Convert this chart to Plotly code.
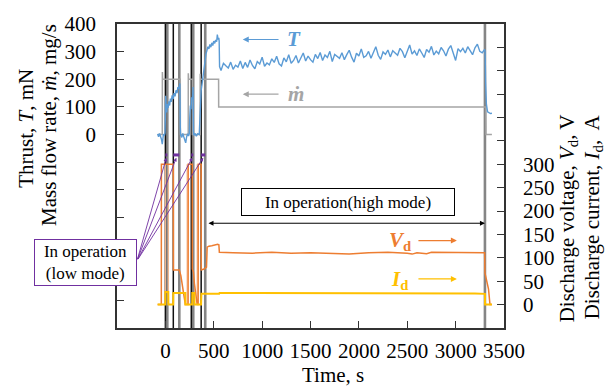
import plotly.graph_objects as go

# ---------------- data ----------------
# Thrust T (mN) - start-up / low-mode part
t_T_early = [-80, -70, -60, -50, -40, -32, -25, -20, -10, -3,
             0, 3, 8, 14, 20, 28, 36, 44, 52, 60,
             70, 80, 90, 100, 110, 120, 130, 140, 150, 154,
             158, 170, 180, 190, 200, 210, 220, 230, 240, 247,
             252, 258, 265, 272, 280, 286, 290, 295, 305, 320,
             335, 350, 355, 362, 370, 380, 390, 400, 410, 420,
             430, 440, 450, 460, 470, 480, 490, 500, 510, 520,
             530, 537, 545, 552, 556, 560]
T_early = [2, -8, 4, -6, -18, -35, -12, 2, -4, 6,
           70, 140, 100, 80, 110, 96, 120, 105, 130, 118,
           142, 128, 150, 138, 160, 150, 172, 166, 185, 30,
           -2, -10, 4, -8, -22, -30, -8, 3, -5, 2,
           60, 105, 92, 135, 128, 172, 12, -3, 4, -6,
           3, 0, 40, 110, 160, 185, 215, 250, 275, 292,
           305, 318, 310, 326, 316, 332, 322, 338, 330, 342,
           336, 362, 344, 350, 338, 246]
# Thrust T (mN) - high mode, sampled every 25 s from 575 s to 3300 s
t_T_high = list(range(575, 3301, 25))
T_high = [232, 258, 249, 241, 262, 236, 251, 244, 266, 239,
          261, 243, 270, 250, 238, 264, 255, 280, 247, 259,
          252, 274, 261, 283, 256, 248, 277, 263, 289, 258,
          268, 286, 259, 279, 295, 266, 284, 271, 262, 290,
          275, 297, 268, 288, 279, 301, 264, 290, 283, 276,
          296, 271, 289, 305, 280, 262, 294, 284, 310, 279,
          285, 301, 276, 296, 318, 287, 272, 299, 290, 306,
          281, 303, 296, 287, 312, 300, 278, 305, 324, 291,
          303, 286, 310, 295, 279, 308, 298, 319, 288, 302,
          292, 315, 303, 284, 309, 322, 297, 268, 311, 300,
          312, 295, 318, 303, 289, 314, 327, 301, 296, 308]
t_T_end = [3305, 3310, 3318, 3330, 3345, 3360, 3375]
T_end = [300, 190, 110, 82, 78, 76, 77]

# Mass flow rate (mg/s)
t_mdot = [-80, -32, -31, -28, 154, 155, 236, 237, 240, 278, 279, 359, 360, 363, 550, 551, 3313, 3314, 3375]
mdot = [0, 0, 226, 200, 200, 0, 0, 222, 200, 200, 0, 0, 220, 200, 200, 100, 100, 0, 0]

# Discharge voltage Vd (V)
t_Vd = [-80, -42, -41, 82, 83, 144, 160, 175, 190, 206, 235, 236, 278, 279, 290, 300, 315, 329,
        339, 340, 370, 371, 400, 425, 432, 450, 480, 510, 540, 553, 558,
        700, 900, 1100, 1300, 1500, 1700, 1900, 2100, 2300, 2500, 2550, 2600, 2700, 2750,
        2800, 3000, 3200, 3300, 3303, 3320, 3340, 3355, 3375]
Vd = [0, 0, 300, 300, 74, 74, 62, 45, 22, 0, 0, 300, 300, 76, 70, 45, 20, 0,
      0, 300, 300, 74, 76, 80, 123, 125, 126, 128, 129, 128, 112,
      111, 110, 112, 110, 111, 110, 108, 111, 112, 110, 108, 111, 109, 112,
      112, 111, 112, 111, 68, 50, 33, 0, 0]
# short discharge-voltage dips during the low-mode attempts (s)
t_Vd_dips = [0, 30, 225, 329]

# Discharge current Id (A)
t_Id = [-80, -1, 0, 30, 31, 81, 82, 206, 207, 277, 278, 300, 301, 369, 372, 556, 560,
        1000, 1500, 1600, 1700, 2200, 3000, 3200, 3303, 3304, 3375]
Id = [0, 0, 27, 27, 0, 0, 25, 25, 0, 0, 25, 25, 0, 0, 23, 23, 25,
      25, 25, 24, 25, 25, 25, 24, 23, 0, 0]

# Low-mode operation windows (s) and end of test (s)
run_start = [0, 82, 268, 370]
run_end = [20, 144, 288, 412]
test_end = 3303
high_start = 430

# Tick labels
x_ticks = [-500, 0, 500, 1000, 1500, 2000, 2500, 3000, 3500]
x_ticktext = ["", "0", "500", "1000", "1500", "2000", "2500", "3000", "3500"]
yl_ticks = [-700, -600, -500, -400, -300, -200, -100, 0, 100, 200, 300, 400]
yl_ticktext = ["", "", "", "", "", "", "", "0", "100", "200", "300", "400"]
yr_ticks = [-50, 0, 50, 100, 150, 200, 250, 300, 350, 400, 450, 500, 550, 600]
yr_ticktext = ["", "0", "50", "100", "150", "200", "250", "300", "", "", "", "", "", ""]

# ---------------- styles ----------------
C_T = "#5B9BD5"
C_M = "#A5A5A5"
C_V = "#ED7D31"
C_V_LIGHT = "#F6B98F"
C_I = "#FFC000"
C_P = "#7030A0"
FONT = "Liberation Serif"

fig = go.Figure()

YL0, YL1 = -700, 400
YR0, YR1 = -50, 600


def vlines(xs):
    xx, yy = [], []
    for v in xs:
        xx += [v, v, None]
        yy += [YL0, YL1, None]
    return xx, yy


# event lines
gx, gy = vlines(run_end + [test_end])
fig.add_trace(go.Scatter(x=gx, y=gy, mode="lines", line=dict(color="#858585", width=2.6), hoverinfo="skip"))
bx, by = vlines(run_start)
fig.add_trace(go.Scatter(x=bx, y=by, mode="lines", line=dict(color="#111111", width=1.5), hoverinfo="skip"))

# mass flow
fig.add_trace(go.Scatter(x=t_mdot, y=mdot, mode="lines", line=dict(color=C_M, width=1.5)))
# thrust
fig.add_trace(go.Scatter(x=t_T_early + t_T_high + t_T_end, y=T_early + T_high + T_end,
                         mode="lines", line=dict(color=C_T, width=1.4)))
# Vd dips
dx, dy = [], []
for v in t_Vd_dips:
    dx += [v, v, None]
    dy += [0, 300, None]
fig.add_trace(go.Scatter(x=dx, y=dy, yaxis="y2", mode="lines", line=dict(color=C_V_LIGHT, width=1.2)))
# Vd
fig.add_trace(go.Scatter(x=t_Vd, y=Vd, yaxis="y2", mode="lines", line=dict(color=C_V, width=1.5)))
# Id
fig.add_trace(go.Scatter(x=t_Id, y=Id, yaxis="y2", mode="lines", line=dict(color=C_I, width=2)))
# low-mode markers
px_, py_ = [], []
for a, b in zip(run_start, run_end):
    px_ += [a, b, None]
    py_ += [320, 320, None]
fig.add_trace(go.Scatter(x=px_, y=py_, yaxis="y2", mode="lines", line=dict(color=C_P, width=3)))

ann = []


def ptext(text, px, py, size=21, angle=0, **kw):
    return dict(text=text, textangle=angle, xref="paper", yref="paper",
                x=(px - 117) / 387, y=(328 - py) / 316, xanchor="center", yanchor="middle",
                showarrow=False, font=dict(size=size, family=FONT, color="black"), **kw)


# axis titles
ann.append(ptext("Thrust, <i>T</i>, mN", 26, 121, angle=-90))
ann.append(ptext("Mass flow rate, <i>ṁ</i>, mg/s", 49, 117, angle=-90))
ann.append(ptext("Discharge voltage, <i>V</i><sub>d</sub>, V", 568, 214, angle=-90))
ann.append(ptext("Discharge current, <i>I</i><sub>d</sub>,  A", 593, 213, angle=-90))
ann.append(ptext("Time, s", 333, 377))

# series labels with arrows
ann.append(dict(text="", x=800, y=344, xref="x", yref="y", ax=1185, ay=344, axref="x", ayref="y",
                showarrow=True, arrowhead=2, arrowsize=1, arrowwidth=1.2, arrowcolor=C_T))
ann.append(dict(text="<b><i>T</i></b>", x=1330, y=344, xref="x", yref="y", showarrow=False,
                font=dict(size=21, color=C_T, family=FONT)))
ann.append(dict(text="", x=800, y=146, xref="x", yref="y", ax=1185, ay=146, axref="x", ayref="y",
                showarrow=True, arrowhead=2, arrowsize=1, arrowwidth=1.2, arrowcolor=C_M))
ann.append(dict(text="<b><i>ṁ</i></b>", x=1350, y=146, xref="x", yref="y", showarrow=False,
                font=dict(size=21, color=C_M, family=FONT)))
ann.append(dict(text="", x=3013, y=137, xref="x", yref="y2", ax=2600, ay=137, axref="x", ayref="y2",
                showarrow=True, arrowhead=2, arrowsize=1, arrowwidth=1.2, arrowcolor=C_V))
ann.append(dict(text="<b><i>V</i><sub>d</sub></b>", x=2420, y=135, xref="x", yref="y2", showarrow=False,
                font=dict(size=21, color=C_V, family=FONT)))
ann.append(dict(text="", x=3013, y=55, xref="x", yref="y2", ax=2600, ay=55, axref="x", ayref="y2",
                showarrow=True, arrowhead=2, arrowsize=1, arrowwidth=1.2, arrowcolor=C_I))
ann.append(dict(text="<b><i>I</i><sub>d</sub></b>", x=2420, y=53, xref="x", yref="y2", showarrow=False,
                font=dict(size=21, color=C_I, family=FONT)))

# high-mode span
ann.append(dict(text="", x=test_end, y=174, xref="x", yref="y2", ax=high_start, ay=174, axref="x", ayref="y2",
                showarrow=True, arrowhead=2, startarrowhead=2, arrowside="end+start", arrowsize=1,
                arrowwidth=1, arrowcolor="black"))
ann.append(dict(text="In operation(high mode)", x=1890, y=219, xref="x", yref="y2", showarrow=False,
                xanchor="center", yanchor="middle",
                font=dict(size=17, family=FONT), bordercolor="black", borderwidth=1, borderpad=2,
                bgcolor="white", width=208, height=22))

# low-mode box and arrows
for a, b in zip(run_start, run_end):
    ann.append(dict(text="", x=(a + b) / 2, y=314, xref="x", yref="y2", ax=-293, ay=94,
                    axref="x", ayref="y2", showarrow=True, arrowhead=2, arrowsize=0.8,
                    arrowwidth=0.9, arrowcolor=C_P))
ann.append(ptext("In operation<br>(low mode)", 85.5, 259.5, size=17,
                 bordercolor=C_P, borderwidth=1, borderpad=2, bgcolor="white", width=97, height=41))

axis_common = dict(ticks="inside", ticklen=7, tickwidth=1, tickcolor="#333", showline=True,
                   linecolor="#333", linewidth=1.5, showgrid=False, zeroline=False,
                   tickfont=dict(size=21, family=FONT, color="black"))

fig.update_layout(
    width=616, height=387, margin=dict(l=117, r=112, t=12, b=59),
    paper_bgcolor="white", plot_bgcolor="white", showlegend=False,
    font=dict(family=FONT, size=20, color="black"),
    xaxis=dict(range=[-500, 3500], tickvals=x_ticks, ticktext=x_ticktext, mirror=True,
               ticklabelstandoff=3, **axis_common),
    yaxis=dict(range=[YL0, YL1], tickvals=yl_ticks, ticktext=yl_ticktext,
               ticklabelstandoff=15, **axis_common),
    yaxis2=dict(range=[YR0, YR1], tickvals=yr_ticks, ticktext=yr_ticktext, overlaying="y",
                side="right", ticklabelstandoff=13, **axis_common),
    annotations=ann,
)

fig.write_html("out.html")
